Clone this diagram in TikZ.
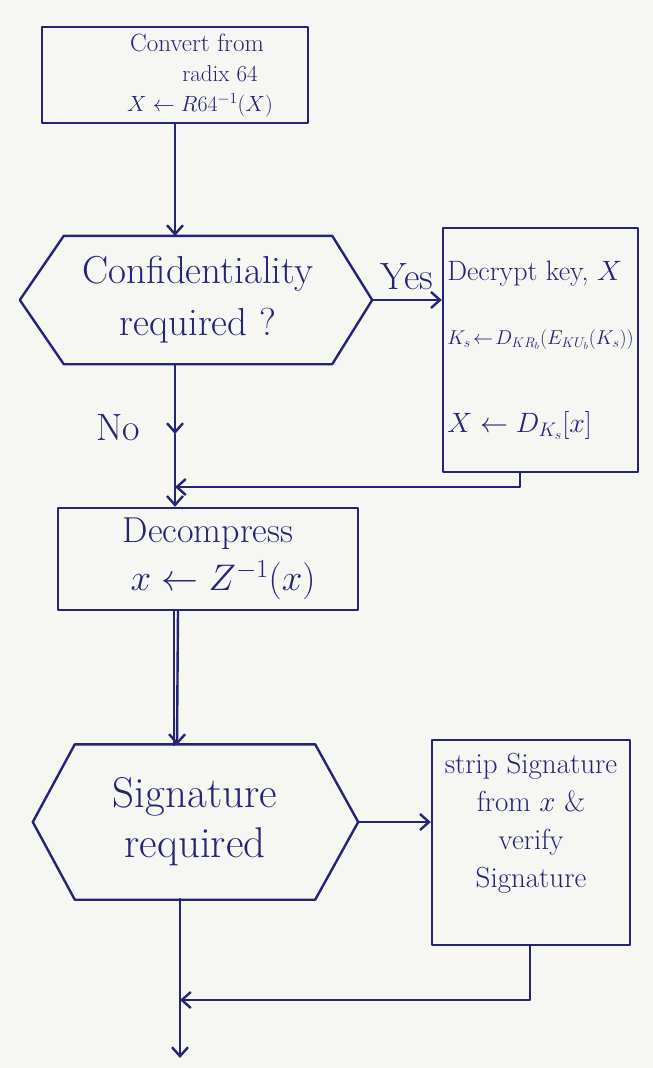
\RequirePackage{fix-cm}
\documentclass[tikz,border=0pt]{standalone}
\usetikzlibrary{arrows.meta,calc}
\newcommand{\fsz}[2]{\fontsize{#1}{#2}\selectfont}
\begin{document}
\begin{tikzpicture}[x=1pt,y=-1pt,
  ink/.style={draw=inkblue,line width=2.4pt,line cap=round,line join=round},
  box/.style={ink,rectangle,inner sep=3pt,align=center,text=inkblue},
  hexbody/.style={rectangle,inner sep=0pt,align=center,text=inkblue},
  flow/.style={ink,-{Straight Barb[length=9pt,width=16pt,line width=2.4pt]}},
  lbl/.style={text=inkblue,font=\fsz{38}{40}}]
\definecolor{inkblue}{RGB}{38,36,118}
\definecolor{paper}{RGB}{246,246,242}
\fill[paper] (0,0) rectangle (653,1068);
\useasboundingbox (0,0) rectangle (653,1068);

% process boxes
\node[box,minimum width=266,minimum height=96,font=\fsz{25}{30}] (rad) at (175,75)
  {\hspace*{44pt}Convert from\\
   \hspace*{90pt}\fsz{23}{30}radix 64\\
   \hspace*{50pt}\fsz{22}{30}$X \leftarrow R64^{-1}(X)$};
\node[box,minimum width=195,minimum height=244,align=left,font=\fsz{28}{30}] (dec) at (540.5,350)
  {Decrypt key, $X$\\[34pt]
   \fsz{20}{30}$K_s \!\leftarrow\! D_{KR_b}(E_{KU_b}(K_s))$\\[58pt]
   \fsz{28}{30}$X \leftarrow D_{K_s}[x]$};
\node[box,minimum width=300,minimum height=102,font=\fsz{36}{48}] (dcp) at (208,559)
  {Decompress\\
   \hspace*{30pt}\fsz{37}{48}$x \leftarrow Z^{-1}(x)$};
\node[box,minimum width=198,minimum height=205,font=\fsz{29}{38}] (strip) at (531,842.5)
  {strip Signature\\ from $x$ \&\\ verify\\ Signature\\[6pt]};

% decision hexagons
\node[hexbody,minimum width=268,minimum height=128,font=\fsz{39}{52}] (conf) at (198,300)
  {Confidentiality\\ required ?};
\draw[ink] (conf.north west) -- (conf.north east) -- ($(conf.east)+(40,0)$) coordinate (confE)
  -- (conf.south east) -- (conf.south west) -- ($(conf.west)+(-44,0)$) -- cycle;
\node[hexbody,minimum width=240,minimum height=155,font=\fsz{43}{50}] (sig) at (195,822)
  {Signature\\ required};
\draw[ink] (sig.north west) -- (sig.north east) -- ($(sig.east)+(43,0)$) coordinate (sigE)
  -- (sig.south east) -- (sig.south west) -- ($(sig.west)+(-42,0)$) -- cycle;

% junction points on the main flow line
\coordinate (confN) at (175,236);
\coordinate (confS) at (175,364);
\coordinate (noMark) at (175,434);
\coordinate (join1) at (175,487);
\coordinate (sigN) at (177,745);
\coordinate (sigS) at (180,899);
\coordinate (join2) at (180,1000);
\coordinate (endPt) at (180,1058);

% connectors
\draw[flow] (rad.south -| confN) -- (confN);
\draw[flow] (confE) -- (dec.west |- confE) node[lbl,midway,above=6pt] {Yes};
\node[lbl] (no) at (118,428) {No};
\draw[flow] (confS) -- (noMark);
\draw[flow] (noMark) -- (dcp.north -| confN);
\draw[flow] (dec.south -| 520,0) |- (join1);
\draw[ink] (dcp.south -| 174,0) -- (174,745);
\draw[flow] (dcp.south -| 178,0) -- (sigN);
\draw[flow] (sigE) -- (strip.west |- sigE);
\draw[flow] (strip.south -| 530,0) |- (join2);
\draw[flow] (sigS) -- (endPt);
\end{tikzpicture}
\end{document}
